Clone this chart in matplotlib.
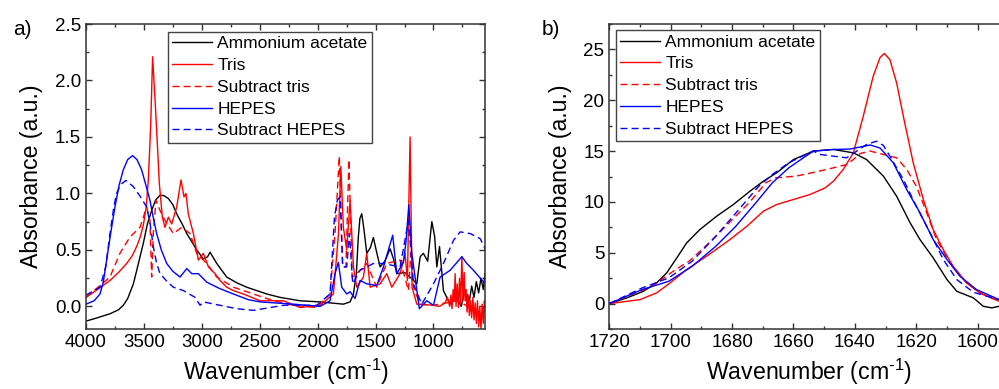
import matplotlib
matplotlib.use("Agg")
import matplotlib.pyplot as plt
from matplotlib.ticker import MultipleLocator, FormatStrFormatter

plt.rcParams['font.family'] = ['Liberation Sans', 'DejaVu Sans']
plt.rcParams['mathtext.fontset'] = 'custom'
plt.rcParams['mathtext.rm'] = 'Liberation Sans'

labels = ["Ammonium acetate", "Tris", "Subtract tris", "HEPES", "Subtract HEPES"]
colors = ["black", "#ff0000", "#ff0000", "#0000ff", "#0000ff"]
styles = ["-", "-", "--", "-", "--"]

# ---- panel a: full FTIR spectra ----
a_wn_acetate = [4000, 3900, 3793, 3720, 3678, 3640, 3591, 3550, 3505, 3470, 3433, 3400, 3361, 3325, 3289,
                3250, 3217, 3170, 3130, 3085, 3044, 2987, 2950, 2929, 2900, 2871,
                2785, 2700, 2612, 2439, 2324, 2152, 1979, 1778, 1720, 1691, 1665, 1650, 1635, 1619, 1600,
                1576, 1545, 1519, 1495, 1461, 1420, 1374, 1345,
                1317, 1250, 1202, 1144, 1115, 1087, 1050, 1030, 1014, 990, 971, 948, 914, 856, 800, 760,
                740, 712, 690, 670, 650, 630, 610, 590, 570, 555]
a_abs_acetate = [-0.13, -0.10, -0.065, -0.03, 0.01, 0.07, 0.20, 0.37, 0.56, 0.73, 0.85, 0.94, 0.985, 0.98, 0.955,
                 0.90, 0.82, 0.73, 0.645, 0.57, 0.50, 0.42, 0.44, 0.48, 0.43, 0.38,
                 0.26, 0.21, 0.17, 0.11, 0.08, 0.05, 0.04, 0.02, 0.04, 0.11, 0.30, 0.60, 0.78, 0.82, 0.68,
                 0.47, 0.52, 0.61, 0.50, 0.35, 0.40, 0.51, 0.42,
                 0.29, 0.30, 0.26, 0.20, 0.44, 0.47, 0.40, 0.60, 0.75, 0.62, 0.35, 0.53, 0.14, 0.02, 0.08, 0.0,
                 0.10, 0.11, 0.05, 0.18, 0.08, 0.22, 0.12, 0.25, 0.15, 0.29]

a_wn_tris = [4000, 3900, 3793, 3720, 3649, 3600, 3563, 3530, 3505, 3480, 3462, 3442, 3425, 3404, 3390, 3367,
             3341, 3318, 3289, 3260,
             3217, 3180, 3154, 3137, 3117, 3073, 3030, 2987, 2943, 2886, 2843, 2785, 2727, 2641, 2497,
             2295, 2152, 1979, 1864, 1820, 1800, 1778, 1749, 1720, 1691, 1662, 1605, 1576, 1547, 1461,
             1403, 1360, 1288, 1245, 1225, 1202, 1185, 1144, 1000, 950, 900, 880, 860, 850, 840, 830,
             820, 813, 805, 795, 784, 775, 765, 755, 745, 735, 727, 718, 710, 700, 690, 680, 670,
             660, 650, 640, 630, 620, 610, 600, 590, 580, 570, 560, 555]
a_abs_tris = [0.08, 0.15, 0.23, 0.30, 0.38, 0.45, 0.53, 0.62, 0.72, 0.88, 1.12, 1.59, 2.21, 1.83, 1.56, 1.09,
              0.79, 0.70, 0.79, 0.73,
              0.88, 1.12, 0.97, 1.00, 0.82, 0.645, 0.41, 0.47, 0.35, 0.29, 0.23, 0.17, 0.14, 0.11, 0.05,
              0.05, -0.01, 0.01, 0.11, 0.645, 1.24, 0.70, 0.50, 0.94, 0.35, 0.17, 0.26, 0.47, 0.17, 0.20,
              0.29, 0.17, 0.29, 0.47, 0.23, 1.50, 0.17, 0.02, 0.01, 0.0, 0.03, 0.08, 0.0, 0.10, -0.02, 0.15,
              0.05, 0.29, 0.0, 0.20, -0.01, 0.25, 0.02, 0.44, 0.05, 0.30, 0.05, 0.15, -0.05, 0.10, -0.08,
              0.05, -0.10, 0.08, -0.12, 0.03, -0.15, 0.05, -0.18, 0.0, -0.20, 0.02, -0.15, 0.05, -0.04]

a_wn_subtris = [4000, 3793, 3707, 3620, 3534, 3476, 3448, 3433, 3419, 3396, 3361, 3318, 3246, 3174,
                3102, 3044, 2958, 2871, 2727, 2555, 2382, 2209, 2008, 1893, 1850, 1813, 1784, 1756,
                1730, 1702, 1662, 1576, 1490, 1403, 1288, 1216, 1196, 1173, 1115, 1000, 900, 800, 700, 600, 555]
a_abs_subtris = [0.08, 0.26, 0.47, 0.615, 0.70, 0.88, 0.76, 0.26, 0.645, 0.94, 0.85, 0.76, 0.645, 0.70,
                 0.645, 0.47, 0.38, 0.26, 0.17, 0.11, 0.05, 0.01, -0.01, 0.11, 0.645, 1.33, 0.35, 0.35,
                 1.30, 0.26, 0.29, 0.38, 0.17, 0.38, 0.41, 0.14, 0.47, 0.17, 0.02, 0.01, 0.03, 0.05, 0.0, -0.05, 0.0]

a_wn_hepes = [4000, 3930, 3879, 3850, 3822, 3785, 3750, 3715, 3678, 3640, 3598, 3560, 3520, 3485, 3448,
              3420, 3390, 3350, 3303, 3250, 3188, 3130, 3087, 3030, 2958,
              2850, 2727, 2600, 2497, 2209, 1979, 1893, 1850, 1821, 1792, 1749, 1720, 1677, 1634, 1576,
              1490, 1432, 1352, 1317, 1259, 1236, 1213, 1187, 1159, 1122, 1058, 1000, 943, 856, 755,
              712, 655, 554]
a_abs_hepes = [0.02, 0.05, 0.11, 0.22, 0.41, 0.66, 0.88, 1.07, 1.21, 1.30, 1.335, 1.30, 1.21, 1.08, 0.94,
               0.79, 0.645, 0.50, 0.38, 0.31, 0.26, 0.335, 0.29, 0.29, 0.215,
               0.16, 0.11, 0.06, 0.04, 0.02, 0.0, 0.05, 0.29, 0.39, 0.17, 0.11, 0.13, 0.07, 0.23, 0.20,
               0.185, 0.35, 0.63, 0.29, 0.39, 0.585, 0.90, 0.47, 0.26, -0.02, 0.05, 0.01, 0.26, 0.32, 0.44,
               0.38, 0.32, 0.20]

a_wn_subhepes = [4000, 3879, 3830, 3793, 3760, 3736, 3700, 3655, 3591, 3530, 3476, 3445, 3419, 3390, 3361,
                 3300, 3246, 3159, 3058, 3015, 2987,
                 2843, 2700, 2555, 2295, 2008, 1893, 1855, 1830, 1806, 1784, 1749, 1726, 1697, 1634, 1519,
                 1432, 1288, 1216, 1173, 1101, 1000, 914, 827, 770, 683, 597, 554]
a_abs_subhepes = [0.10, 0.17, 0.35, 0.645, 0.88, 1.0, 1.08, 1.115, 1.06, 0.97, 0.88, 0.72, 0.53, 0.38, 0.29,
                  0.22, 0.17, 0.14, 0.08, 0.01, 0.04,
                  0.01, -0.02, -0.035, 0.01, 0.01, 0.11, 0.79, 0.94, 0.97, 0.35, 0.35, 0.645, 0.20, 0.32, 0.38,
                  0.38, 0.35, 0.76, 0.20, 0.02, 0.20, 0.38, 0.585, 0.66, 0.645, 0.60, 0.51]

# ---- panel b: amide I region ----
b_wn_acetate = [1720, 1714.3, 1708.9, 1704.6, 1701.3, 1698, 1694.8, 1690.5, 1685, 1679.6, 1674.2, 1669.8,
                1665.5, 1660, 1653.5, 1647, 1640.5, 1636.2, 1630.7, 1626.4, 1622, 1618.8, 1614.5, 1610,
                1606.8, 1601.4, 1598.2, 1595.4, 1593]
b_abs_acetate = [0, 0.56, 1.21, 2.03, 3.02, 4.5, 5.97, 7.28, 8.6, 9.74, 11.05, 12.04,
                 12.86, 14.17, 15.0, 15.16, 14.83, 14.17, 12.53, 10.56, 7.94, 6.3, 4.5, 2.36,
                 1.21, 0.56, -0.26, -0.42, -0.26]

b_wn_tris = [1720, 1710, 1704.6, 1700.2, 1694.8, 1688.3, 1680.7, 1675.2, 1669.8, 1665.5, 1660, 1654.6,
             1649.7, 1647, 1643.8, 1640.5, 1637.3, 1634, 1631.8, 1630.4, 1628.6, 1626.4, 1624.2, 1621,
             1617.7, 1614.5, 1611.2, 1608, 1603.6, 1599.3, 1593]
b_abs_tris = [0, 0.39, 1.05, 2.03, 3.35, 4.66, 6.3, 7.6, 9.09, 9.74, 10.24, 10.73,
              11.38, 12.04, 13.19, 14.83, 18.4, 22.4, 24.2, 24.6, 24.0, 21.7, 18.4, 13.85,
              10.24, 7.28, 5.3, 3.67, 2.03, 1.05, 0.23]

b_wn_subtris = [1720, 1706, 1698.4, 1694, 1687.5, 1681, 1674.5, 1669, 1665.8, 1659.3, 1655, 1649.2,
                1642.7, 1640.5, 1638.3, 1635, 1630.7, 1626.4, 1623.1, 1620, 1616.6, 1613.4, 1609, 1603.6,
                1598.2, 1593]
b_abs_subtris = [0, 1.71, 3.35, 4.17, 5.97, 7.94, 9.9, 11.88, 12.37, 12.53, 12.8, 13.19,
                 13.68, 14.17, 14.76, 15.0, 14.67, 14.34, 13.19, 11.55, 8.93, 6.3, 4.0, 2.03,
                 0.89, 0.23]

b_wn_hepes = [1720, 1709.3, 1700.6, 1693, 1685.3, 1678.8, 1672.3, 1666.9, 1661.5, 1656, 1653.5, 1647,
              1641.6, 1635, 1631.8, 1627.5, 1623.1, 1618.8, 1614.5, 1610, 1605.8, 1600.4, 1593]
b_abs_hepes = [0, 1.38, 2.2, 3.67, 5.64, 7.6, 9.9, 11.88, 13.36, 14.5, 15.0, 15.16,
               15.2, 15.6, 15.3, 13.85, 11.2, 8.93, 6.3, 4.33, 2.69, 1.38, 0.39]

b_wn_subhepes = [1720, 1709.3, 1700.6, 1693, 1685.3, 1677.8, 1671.3, 1666.9, 1661.5, 1656, 1653.5, 1651.4,
                 1647, 1642.7, 1639.4, 1636.2, 1633, 1630.7, 1628.6, 1624.2, 1620, 1615.5, 1611.2, 1606.8,
                 1601.4, 1593]
b_abs_subhepes = [0, 1.54, 2.53, 4.17, 6.62, 9.25, 11.55, 12.7, 13.85, 14.67, 15.0, 14.67,
                  14.5, 14.34, 15.0, 15.65, 15.97, 15.55, 14.5, 12.2, 9.58, 6.96, 4.33, 2.36,
                  1.11, 0.39]

a_series = [(a_wn_acetate, a_abs_acetate), (a_wn_tris, a_abs_tris), (a_wn_subtris, a_abs_subtris),
            (a_wn_hepes, a_abs_hepes), (a_wn_subhepes, a_abs_subhepes)]
b_series = [(b_wn_acetate, b_abs_acetate), (b_wn_tris, b_abs_tris), (b_wn_subtris, b_abs_subtris),
            (b_wn_hepes, b_abs_hepes), (b_wn_subhepes, b_abs_subhepes)]

fig = plt.figure(figsize=(9.99, 3.89), dpi=100)
ax_a = fig.add_axes([0.0861, 0.1542, 0.3994, 0.7841])
ax_b = fig.add_axes([0.6099, 0.1542, 0.3995, 0.7841])

edge = "#333333"


def style_axes(ax):
    for sp in ax.spines.values():
        sp.set_linewidth(1.1)
        sp.set_color(edge)
    ax.tick_params(which="both", direction="in", top=True, right=True, colors=edge,
                   labelcolor="black", labelsize=13.5, width=1.0)
    ax.tick_params(which="major", length=4.5)
    ax.tick_params(which="minor", length=2.5)
    ax.set_xlabel("Wavenumber (cm$^{\\mathregular{\u20101}}$)", fontsize=16.7, labelpad=4.5)
    ax.set_ylabel("Absorbance (a.u.)", fontsize=16.7, labelpad=8.5)


for ax, series in ((ax_a, a_series), (ax_b, b_series)):
    for (wn, ab), lab, col, ls in zip(series, labels, colors, styles):
        ax.plot(wn, ab, color=col, linestyle=ls, linewidth=1.0, label=lab,
                dashes=(5, 3) if ls == "--" else (None, None))
    style_axes(ax)

ax_a.set_xlim(4000, 555)
ax_a.set_ylim(-0.2, 2.5)
ax_a.xaxis.set_major_locator(MultipleLocator(500))
ax_a.xaxis.set_minor_locator(MultipleLocator(250))
ax_a.yaxis.set_major_locator(MultipleLocator(0.5))
ax_a.yaxis.set_minor_locator(MultipleLocator(0.25))
ax_a.yaxis.set_major_formatter(FormatStrFormatter("%.1f"))

ax_b.set_xlim(1720, 1590)
ax_b.set_ylim(-2.5, 27.5)
ax_b.xaxis.set_major_locator(MultipleLocator(20))
ax_b.xaxis.set_minor_locator(MultipleLocator(10))
ax_b.yaxis.set_major_locator(MultipleLocator(5))
ax_b.yaxis.set_minor_locator(MultipleLocator(2.5))

leg_kw = dict(loc="upper left", borderaxespad=0, fontsize=12.5, handlelength=2.3,
              handletextpad=0.3, labelspacing=0.38, borderpad=0.25, fancybox=False,
              framealpha=1, edgecolor="#444444")
leg_a = ax_a.legend(bbox_to_anchor=(0.2055, 0.974), **leg_kw)
leg_b = ax_b.legend(bbox_to_anchor=(0.0168, 0.980), **leg_kw)
for leg in (leg_a, leg_b):
    leg.get_frame().set_linewidth(1.0)

fig.text(0.013, 0.925, "a)", fontsize=15, va="center", ha="left")
fig.text(0.542, 0.925, "b)", fontsize=15, va="center", ha="left")

fig.savefig("out.png", dpi=100)
